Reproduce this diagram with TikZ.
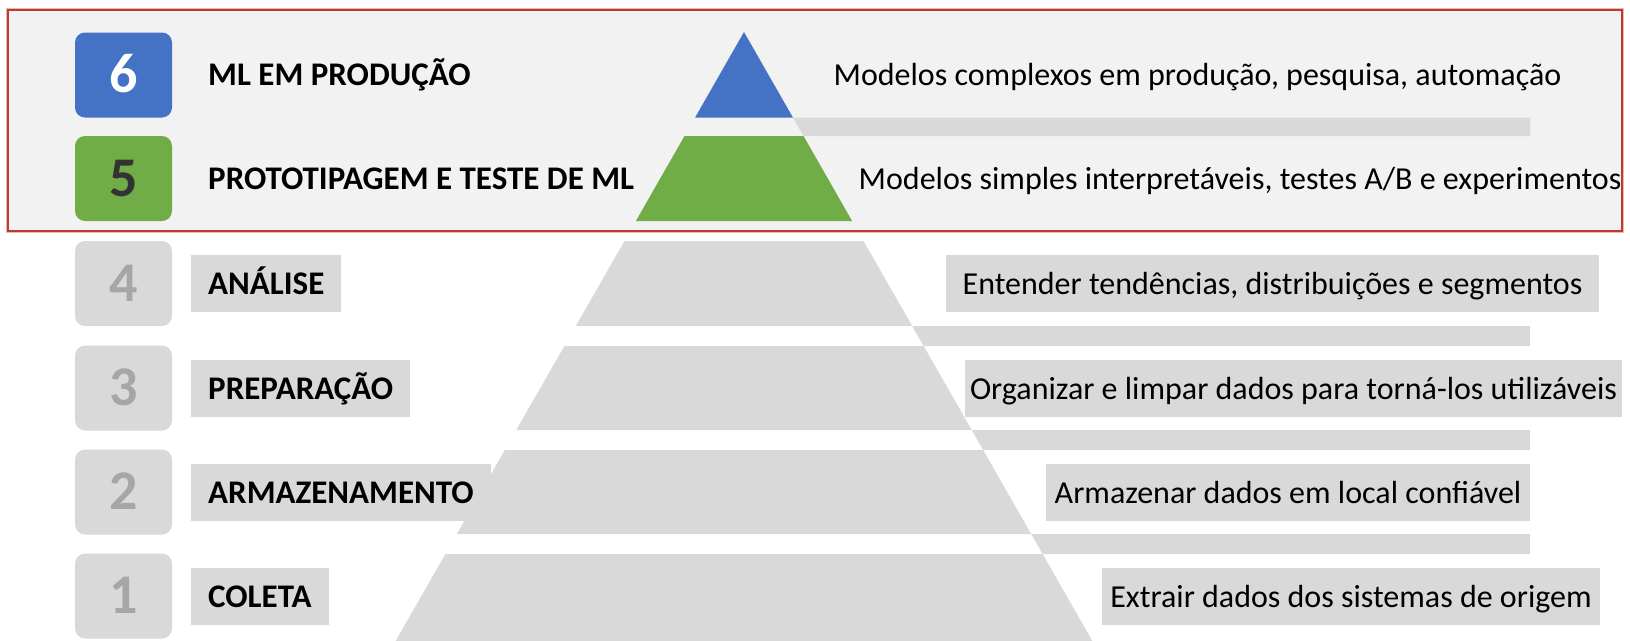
\documentclass[tikz,border=0pt]{standalone}
\usepackage{fontspec}
\setmainfont{Carlito}
\definecolor{rbg}{HTML}{F2F2F2}
\definecolor{rline}{HTML}{C0392B}
\definecolor{mlblue}{HTML}{4472C4}
\definecolor{mlgreen}{HTML}{70AD47}
\definecolor{lgray}{HTML}{D9D9D9}
\definecolor{dgray}{HTML}{A6A6A6}
\definecolor{dark}{HTML}{333333}
\begin{document}
\begin{tikzpicture}[x=1pt,y=-1pt,
  numbox/.style={rounded corners=10pt, minimum width=97pt, minimum height=85pt, inner sep=0pt,
    font=\fontsize{56}{56}\selectfont\bfseries, text height=42pt, text depth=7pt},
  lbl/.style={anchor=west, inner xsep=17pt, inner ysep=0pt, minimum height=57pt,
    font=\fontsize{33}{33}\selectfont\bfseries, text height=27pt, text depth=6pt},
  desc/.style={inner sep=0pt, minimum height=57pt,
    font=\fontsize{32}{32}\selectfont, text height=27pt, text depth=6pt},
  slice/.style={fill=lgray, draw=none}
]
\useasboundingbox (0,0) rectangle (1630,640);
\fill[white] (0,0) rectangle (1630,640);
% highlighted frame
\draw[rline!35, line width=4pt] (8,10) rectangle (1622,231);
\draw[fill=rbg, draw=rline, line width=1.6pt] (8,10) rectangle (1622,231);

% pyramid slices
\fill[mlblue] (744,32) -- (792.9,117.5) -- (695.1,117.5) -- cycle;
\fill[mlgreen] (684.5,136) -- (803.5,136) -- (852.1,221) -- (635.9,221) -- cycle;
\fill[slice] (624.5,241) -- (863.5,241) -- (912.2,326) -- (575.8,326) -- cycle;
\fill[slice] (564.4,346) -- (923.6,346) -- (971.7,430) -- (516.3,430) -- cycle;
\fill[slice] (504.9,450) -- (983.1,450) -- (1031.1,534) -- (456.9,534) -- cycle;
\fill[slice] (445.4,554) -- (1042.6,554) -- (1092.4,641) -- (395.6,641) -- cycle;
% bands between slices
\fill[slice] (792.9,117.5) -- (1530,117.5) -- (1530,136) -- (803.5,136) -- cycle;
\fill[slice] (912.2,326) -- (1530,326) -- (1530,346) -- (923.6,346) -- cycle;
\fill[slice] (971.7,430) -- (1530,430) -- (1530,450) -- (983.1,450) -- cycle;
\fill[slice] (1031.1,534) -- (1530,534) -- (1530,554) -- (1042.6,554) -- cycle;

% number boxes
\node[numbox, fill=mlblue, text=white] (n6) at (123.5,75) {6};
\node[numbox, fill=mlgreen, text=dark] (n5) at (123.5,178.5) {5};
\node[numbox, fill=lgray, text=dgray] (n4) at (123.5,283.5) {4};
\node[numbox, fill=lgray, text=dgray] (n3) at (123.5,388) {3};
\node[numbox, fill=lgray, text=dgray] (n2) at (123.5,492) {2};
\node[numbox, fill=lgray, text=dgray] (n1) at (123.5,596) {1};

% level labels
\node[lbl] (l6) at (191,75) {ML EM PRODUÇÃO};
\node[lbl] (l5) at (191,178.5) {PROTOTIPAGEM E TESTE DE ML};
\node[lbl, fill=lgray] (l4) at (191,283.5) {ANÁLISE};
\node[lbl, fill=lgray] (l3) at (191,388.5) {PREPARAÇÃO};
\node[lbl, fill=lgray] (l2) at (191,492.5) {ARMAZENAMENTO};
\node[lbl, fill=lgray] (l1) at (191,596.5) {COLETA};

% descriptions
\node[desc] (d6) at (1197.5,75) {Modelos complexos em produção, pesquisa, automação};
\node[desc] (d5) at (1240,178.5) {Modelos simples interpretáveis, testes A/B e experimentos};
\node[desc, fill=lgray, minimum width=653pt] (d4) at (1272.5,283.5) {Entender tendências, distribuições e segmentos};
\node[desc, fill=lgray, minimum width=657pt] (d3) at (1293.5,388.5) {Organizar e limpar dados para torná-los utilizáveis};
\node[desc, fill=lgray, minimum width=484pt] (d2) at (1288,492.5) {Armazenar dados em local confiável};
\node[desc, fill=lgray, minimum width=498pt] (d1) at (1351,596.5) {Extrair dados dos sistemas de origem};
\end{tikzpicture}
\end{document}
